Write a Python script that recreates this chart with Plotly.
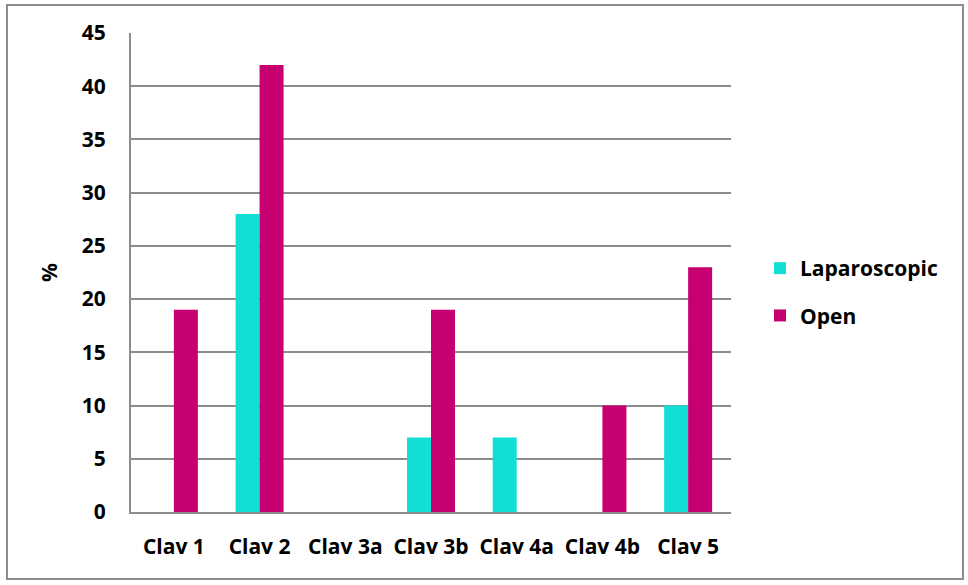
import plotly.graph_objects as go

categories = ["Clav 1", "Clav 2", "Clav 3a", "Clav 3b", "Clav 4a", "Clav 4b", "Clav 5"]
laparoscopic = [0, 28, 0, 7, 7, 0, 10]
open_surgery = [19, 42, 0, 19, 0, 10, 23]
y_ticks = [0, 5, 10, 15, 20, 25, 30, 35, 40, 45]

FONT = "Open Sans"
GRID = "#8c8c8c"
FS = 21

fig = go.Figure()
fig.add_trace(go.Bar(x=categories, y=laparoscopic, name="Laparoscopic",
                     marker=dict(color="#12DED4", line=dict(width=0)),
                     legendgroup="lap"))
fig.add_trace(go.Bar(x=categories, y=open_surgery, name="Open",
                     marker=dict(color="#C60070", line=dict(width=0)),
                     legendgroup="open"))

L, R, T, B = 131, 237, 33, 73
W, H = 968, 585
pw, ph = W - L - R, H - T - B

fig.update_layout(
    width=W, height=H,
    margin=dict(l=L, r=R, t=T, b=B),
    paper_bgcolor="white", plot_bgcolor="white",
    barmode="group", bargap=0.44, bargroupgap=0,
    font=dict(family=FONT, size=FS, color="black"),
    showlegend=True,
    legend=dict(x=(760 - L) / pw, y=(512 - 292) / ph, xanchor="left", yanchor="middle",
                font=dict(family=FONT, size=FS, color="black", weight="bold"),
                tracegroupgap=17, itemwidth=30, bgcolor="rgba(0,0,0,0)"),
    xaxis=dict(showgrid=False, showline=True, linecolor=GRID, linewidth=2,
               ticks="", tickfont=dict(family=FONT, size=FS, weight="bold"),
               ticklabelstandoff=15),
    yaxis=dict(range=[0, 45], tickvals=y_ticks, showgrid=True, gridcolor=GRID,
               gridwidth=1.5, showline=True, linecolor=GRID, linewidth=2,
               zeroline=False, ticks="",
               tickfont=dict(family=FONT, size=FS, weight="bold"),
               ticklabelstandoff=19,
               title=dict(text="%", font=dict(family=FONT, size=FS, weight="bold"),
                          standoff=18)),
    shapes=[dict(type="rect", xref="paper", yref="paper",
                 x0=(7 - L) / pw, x1=(963 - L) / pw,
                 y0=(512 - 579) / ph, y1=(512 - 5) / ph,
                 line=dict(color="#8c8c8c", width=2), fillcolor="rgba(0,0,0,0)",
                 layer="below")],
)

fig.write_html("out.html")
